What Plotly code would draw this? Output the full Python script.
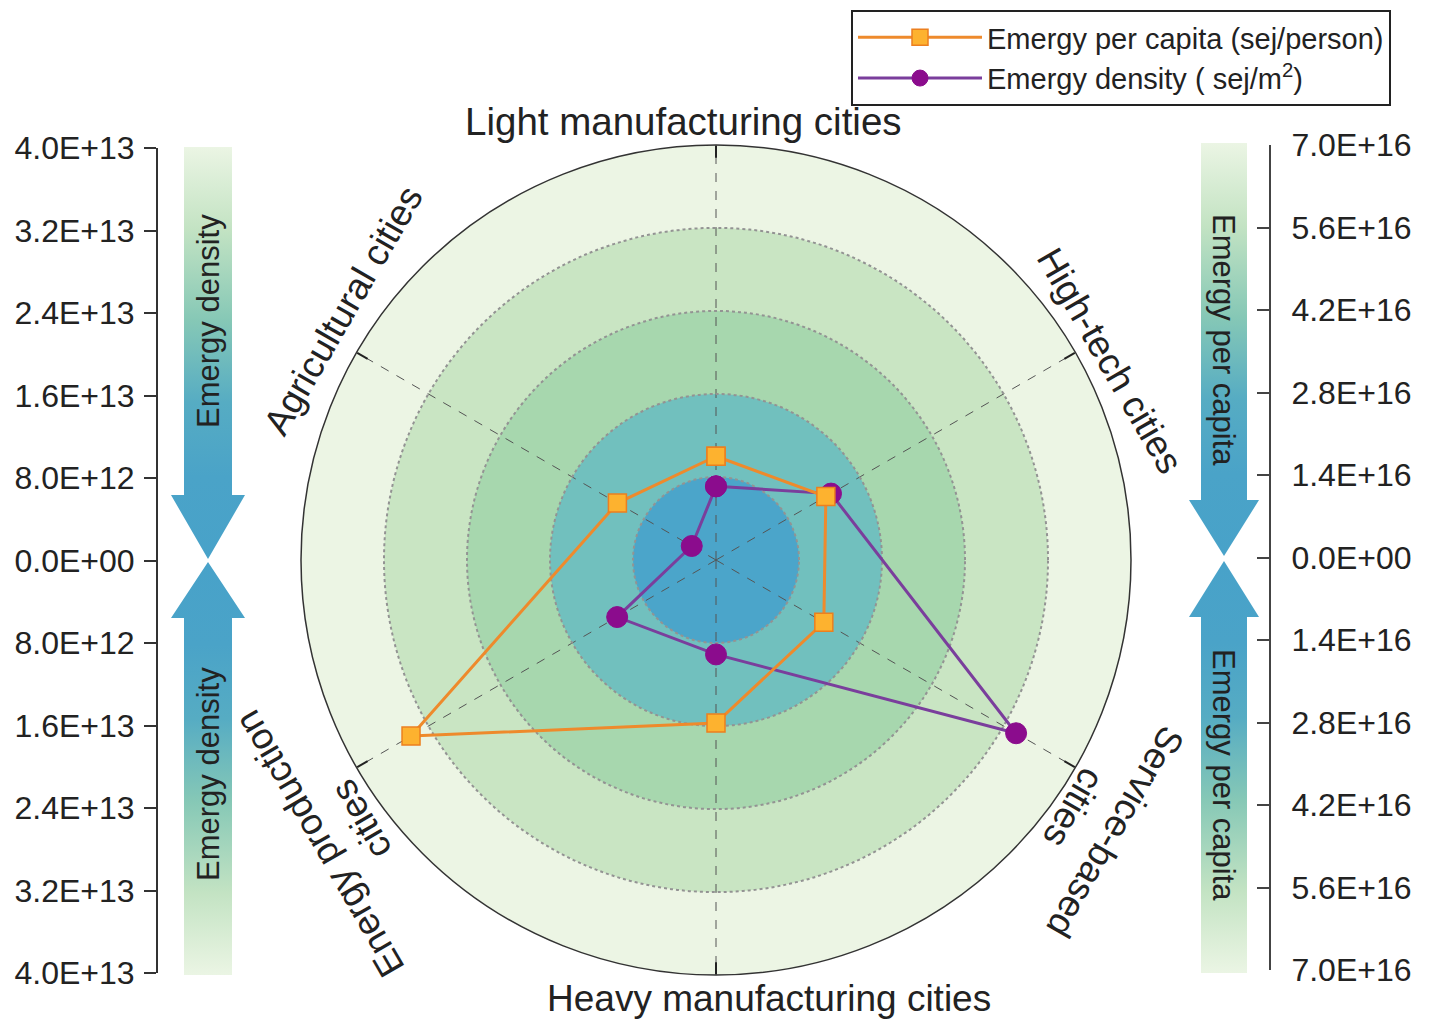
import plotly.graph_objects as go

# ---------------- data ----------------
categories = ["Light manufacturing cities", "High-tech cities", "Service-based cities",
              "Heavy manufacturing cities", "Energy production cities", "Agricultural cities"]
emergy_per_capita = [1.75e16, 2.14e16, 2.10e16, 2.75e16, 5.94e16, 1.92e16]   # sej/person
emergy_density = [7.1e12, 1.28e13, 3.34e13, 9.1e12, 1.10e13, 2.7e12]         # sej/m2
density_ticks = [0.0, 8.0e12, 1.6e13, 2.4e13, 3.2e13, 4.0e13]
per_capita_ticks = [0.0, 1.4e16, 2.8e16, 4.2e16, 5.6e16, 7.0e16]
series_names = ["Emergy per capita (sej/person)", "Emergy density ( sej/m<sup>2</sup>)"]
category_labels = ["Light manufacturing cities", "High-tech cities", "Service-based<br>cities",
                   "Heavy manufacturing cities", "Energy production<br>cities", "Agricultural cities"]

# ---------------- layout helpers ----------------
W, H = 1432, 1021
CX, CY, R = 716, 560, 415
FONT = "Liberation Sans, Arial, sans-serif"
TXT = "#222222"


def px_x(x):
    return x / W


def px_y(y):
    return 1 - y / H


polar_domain = dict(x=[px_x(CX - R), px_x(CX + R)], y=[px_y(CY + R), px_y(CY - R)])

fig = go.Figure()

# concentric colour bands (decoration, drawn beneath the grid)
ring_colors = ["#ecf5e4", "#c9e5c3", "#a7d7ae", "#71c0be", "#4ba5ca"]
ring_fracs = [1.0, 0.8, 0.6, 0.4, 0.2]
for f, c in zip(ring_fracs, ring_colors):
    fig.add_trace(go.Barpolar(r=[f], theta=[0], width=[360], base=0,
                              marker=dict(color=c, line=dict(width=0)),
                              subplot="polar", showlegend=False, hoverinfo="skip"))


def closed(v):
    return list(v) + [v[0]]


fig.add_trace(go.Scatterpolar(
    r=closed(emergy_density), theta=closed(categories), subplot="polar2",
    mode="lines+markers", name=series_names[1], legendrank=2,
    line=dict(color="#7a3e9c", width=3),
    marker=dict(symbol="circle", size=21, color="#8b0c8d", line=dict(color="#8b0c8d", width=1)),
    hoverinfo="skip"))
fig.add_trace(go.Scatterpolar(
    r=closed(emergy_per_capita), theta=closed(categories), subplot="polar3",
    mode="lines+markers", name=series_names[0], legendrank=1,
    line=dict(color="#ee8a2c", width=3),
    marker=dict(symbol="square", size=18, color="#fdb22f", line=dict(color="#ec7f1f", width=1.5)),
    hoverinfo="skip"))

# dummy traces so the two side scales exist
for ya in ["y", "y2"]:
    fig.add_trace(go.Scatter(x=[0.5], y=[0], xaxis="x", yaxis=ya, mode="markers",
                             marker=dict(opacity=0), showlegend=False, hoverinfo="skip"))

# gradient arrows (decoration in pixel space)
LIGHT_TO_BLUE = [[0, "#ebf5e4"], [0.2, "#c3e3c3"], [0.42, "#86c8b6"], [0.62, "#56acc3"],
                 [0.8, "#4aa3c8"], [1, "#48a2c9"]]
BLUE_TO_LIGHT = [[1 - p, c] for p, c in reversed(LIGHT_TO_BLUE)]


def arrow(xc, sh, hh, y_end, y_base, y_tip):
    xs = [xc - sh, xc + sh, xc + sh, xc + hh, xc, xc - hh, xc - sh, xc - sh]
    ys = [y_end, y_end, y_base, y_base, y_tip, y_base, y_base, y_end]
    return xs, ys


arrows = [
    (arrow(208, 24, 37, 147, 495, 559), 147, 559, LIGHT_TO_BLUE),
    (arrow(208, 24, 37, 975, 618, 562), 562, 975, BLUE_TO_LIGHT),
    (arrow(1224, 23, 35, 143, 500, 556), 143, 556, LIGHT_TO_BLUE),
    (arrow(1224, 23, 35, 973, 617, 561), 561, 973, BLUE_TO_LIGHT),
]
for (xs, ys), s0, s1, cs in arrows:
    fig.add_trace(go.Scatter(x=xs, y=ys, xaxis="x3", yaxis="y3", mode="lines",
                             line=dict(width=0), fill="toself",
                             fillgradient=dict(type="vertical", colorscale=cs, start=s0, stop=s1),
                             showlegend=False, hoverinfo="skip"))


def mirrored(ticks):
    vals = [-t for t in reversed(ticks[1:])] + list(ticks)
    text = [f"{abs(v):.1E}" for v in vals]
    return vals, text


d_vals, d_text = mirrored(density_ticks)
p_vals, p_text = mirrored(per_capita_ticks)

fig.update_layout(
    width=W, height=H, margin=dict(l=0, r=0, t=0, b=0, pad=0, autoexpand=False),
    paper_bgcolor="white", plot_bgcolor="rgba(0,0,0,0)",
    font=dict(family=FONT, color=TXT),
    polar=dict(domain=polar_domain, bgcolor="rgba(0,0,0,0)", barmode="overlay",
               radialaxis=dict(visible=False, range=[0, 1]),
               angularaxis=dict(visible=False, direction="clockwise", rotation=90)),
    polar2=dict(domain=polar_domain, bgcolor="rgba(0,0,0,0)",
                radialaxis=dict(range=[0, density_ticks[-1]], tickmode="array",
                                tickvals=density_ticks[1:-1], showticklabels=False, ticks="",
                                showline=False, showgrid=True, gridcolor="#939393",
                                griddash="dot", gridwidth=1.5),
                angularaxis=dict(type="category", categoryarray=categories, direction="clockwise",
                                 rotation=90, showticklabels=False, ticks="inside", ticklen=12,
                                 tickwidth=2, tickcolor="#222", showline=True, linecolor="#333",
                                 linewidth=1.5, showgrid=True, gridcolor="#555", griddash="dash",
                                 gridwidth=1.2)),
    polar3=dict(domain=polar_domain, bgcolor="rgba(0,0,0,0)",
                radialaxis=dict(visible=False, range=[0, per_capita_ticks[-1]]),
                angularaxis=dict(visible=False, type="category", categoryarray=categories,
                                 direction="clockwise", rotation=90)),
    xaxis=dict(domain=[0, 1], range=[0, 1], visible=False, fixedrange=True, automargin=False),
    yaxis=dict(domain=[px_y(973), px_y(148)], range=[-density_ticks[-1], density_ticks[-1]],
               anchor="free", position=px_x(157), side="left", tickmode="array",
               tickvals=d_vals, ticktext=d_text, ticks="outside", ticklen=12, tickwidth=2,
               tickcolor="#333", showline=True, linecolor="#333", linewidth=2, showgrid=False,
               zeroline=False, tickfont=dict(size=32, color=TXT), ticklabelstandoff=3,
               fixedrange=True, automargin=False),
    yaxis2=dict(domain=[px_y(970), px_y(145)], range=[-per_capita_ticks[-1], per_capita_ticks[-1]],
                anchor="free", position=px_x(1270), side="right", tickmode="array",
                tickvals=p_vals, ticktext=p_text, ticks="inside", ticklen=12, tickwidth=2,
                tickcolor="#444", showline=True, linecolor="#444", linewidth=2, showgrid=False,
                zeroline=False, tickfont=dict(size=32, color=TXT), ticklabelstandoff=14,
                fixedrange=True, automargin=False),
    xaxis3=dict(domain=[0, 1], range=[0, W], visible=False, anchor="y3", fixedrange=True,
                automargin=False),
    yaxis3=dict(domain=[0, 1], range=[H, 0], visible=False, anchor="x3", fixedrange=True,
                automargin=False),
    legend=dict(x=px_x(851), y=px_y(10), xanchor="left", yanchor="top", bgcolor="white",
                bordercolor="#222", borderwidth=2, font=dict(size=29, family=FONT, color=TXT),
                itemwidth=124, tracegroupgap=0, traceorder="normal"),
    showlegend=True,
)

# category labels, rotated along the circle
label_specs = [
    (category_labels[0], 683, 122, 0, 38.5),
    (category_labels[1], 1110, 360, 60, 37),
    (category_labels[2], 1095, 820, 120, 37),
    (category_labels[3], 769, 998, 0, 37),
    (category_labels[4], 340, 832, -120, 37),
    (category_labels[5], 343, 310, -60, 37),
]
for text, x, y, ang, size in label_specs:
    fig.add_annotation(text=text, x=px_x(x), y=px_y(y), xref="paper", yref="paper",
                       showarrow=False, textangle=ang, xanchor="center", yanchor="middle",
                       font=dict(size=size, family=FONT, color=TXT))

# arrow captions
for text, x, y, ang in [("Emergy density", 208, 321, -90), ("Emergy density", 208, 774, -90),
                        ("Emergy per capita", 1224, 340, 90), ("Emergy per capita", 1224, 775, 90)]:
    fig.add_annotation(text=text, x=px_x(x), y=px_y(y), xref="paper", yref="paper",
                       showarrow=False, textangle=ang, xanchor="center", yanchor="middle",
                       font=dict(size=31, family=FONT, color=TXT))

fig.write_html("out.html")
